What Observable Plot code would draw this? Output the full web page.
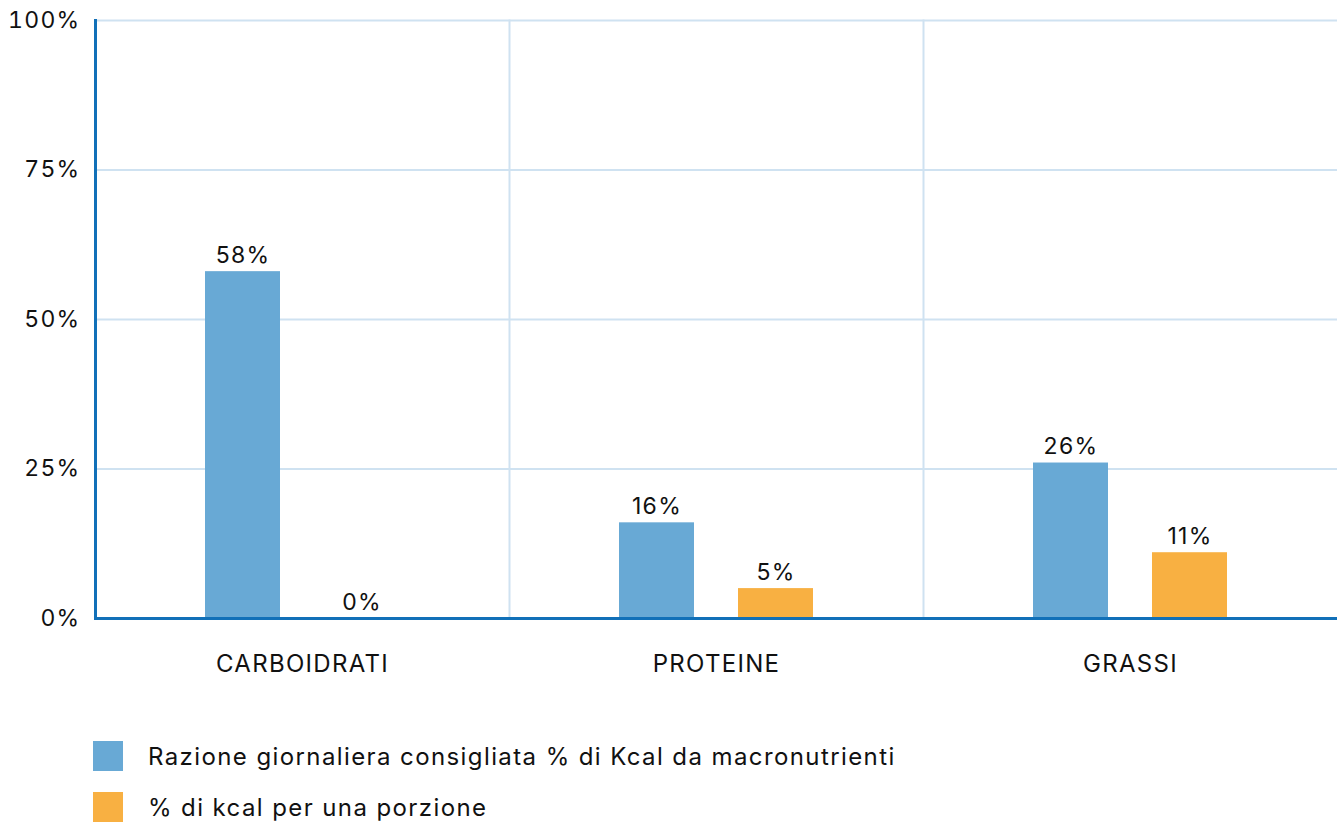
<!DOCTYPE html>
<html>
<head>
<meta charset="utf-8">
<script src="https://cdn.jsdelivr.net/npm/d3@7"></script>
<script src="https://cdn.jsdelivr.net/npm/@observablehq/plot@0.6"></script>
<style>
  html, body { margin: 0; padding: 0; background: #fff; }
  body { font-family: Inter, sans-serif; color: #111; letter-spacing: 1.4px; }
  #legend { margin-top: 41px; margin-left: 93px; }
  .item { display: flex; align-items: center; height: 30px; margin-bottom: 21px; font-size: 24px; }
  .sw { width: 30px; height: 30px; margin-right: 25px; flex: none; }
</style>
</head>
<body>
<div id="chart"></div>
<div id="legend"></div>
<script>
const categories = ["CARBOIDRATI", "PROTEINE", "GRASSI"];
const seriesNames = [
  "Razione giornaliera consigliata % di Kcal da macronutrienti",
  "% di kcal per una porzione"
];
const seriesColors = ["#68A9D5", "#F8B042"];
const recommended = [58, 16, 26];
const portion = [0, 5, 11];
const yTicks = [0, 25, 50, 75, 100];

const rows = [];
categories.forEach((c, i) => {
  rows.push({category: c, series: seriesNames[0], value: recommended[i]});
  rows.push({category: c, series: seriesNames[1], value: portion[i]});
});

const axisDark = "#1170B8";
const gridLight = "#CFE2F1";

const chart = Plot.plot({
  width: 1337,
  height: 700,
  marginLeft: 95,
  marginRight: 0,
  marginTop: 20,
  marginBottom: 82,
  style: {fontFamily: "Inter, sans-serif", fontSize: "23px", color: "#111", background: "#fff", letterSpacing: "1.3px"},
  fx: {domain: categories, padding: 0, label: null},
  x: {domain: seriesNames, paddingInner: 0.367, paddingOuter: 0.9125, axis: null},
  y: {domain: [0, 100], label: null},
  color: {domain: seriesNames, range: seriesColors},
  marks: [
    Plot.ruleY(yTicks.filter(d => d > 0), {stroke: gridLight, strokeWidth: 2}),
    Plot.frame({anchor: "left", stroke: gridLight, strokeWidth: 2}),
    Plot.barY(rows, {fx: "category", x: "series", y: "value", fill: "series"}),
    Plot.text(rows, {fx: "category", x: "series", y: "value", text: d => d.value + "%", dy: -16, fontSize: 23, fill: "#111"}),
    Plot.ruleY([0], {stroke: axisDark, strokeWidth: 3}),
    Plot.frame({anchor: "left", stroke: axisDark, strokeWidth: 3, facetAnchor: "left"}),
    Plot.axisY({ticks: yTicks, tickFormat: d => d + "%", tickSize: 0, tickPadding: 15, label: null, fontSize: 23}),
    Plot.axisFx({anchor: "bottom", tickSize: 0, tickPadding: 36, label: null, fontSize: 24})
  ]
});
document.getElementById("chart").appendChild(chart);

const legend = document.getElementById("legend");
seriesNames.forEach((name, i) => {
  const item = document.createElement("div");
  item.className = "item";
  const sw = document.createElement("span");
  sw.className = "sw";
  sw.style.background = seriesColors[i];
  const t = document.createElement("span");
  t.textContent = name;
  item.appendChild(sw);
  item.appendChild(t);
  legend.appendChild(item);
});
</script>
</body>
</html>
